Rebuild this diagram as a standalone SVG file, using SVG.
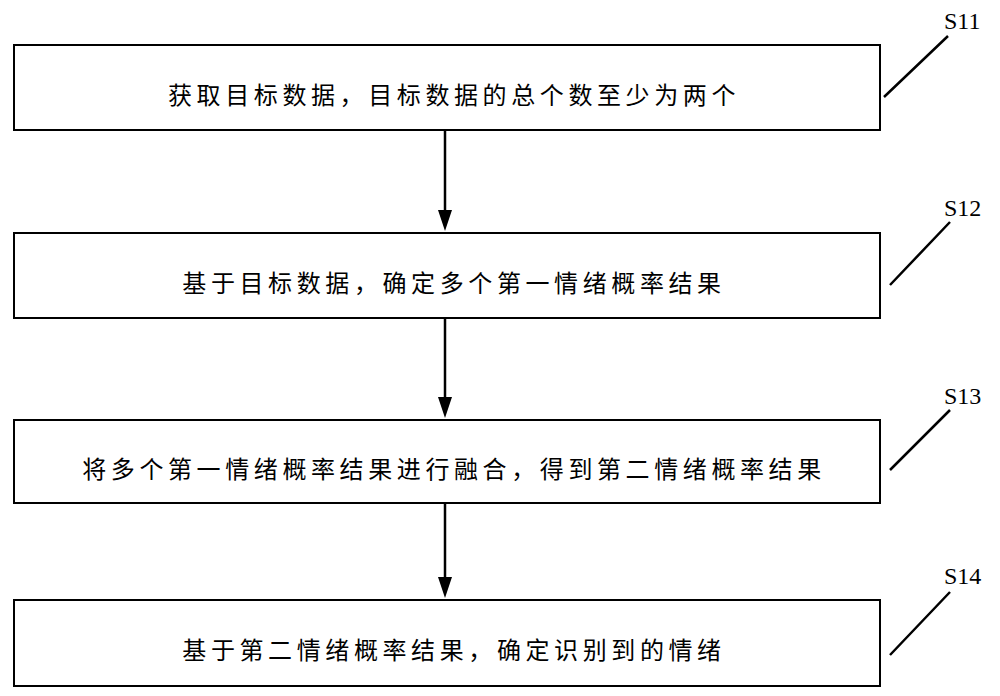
<svg xmlns="http://www.w3.org/2000/svg" width="1000" height="696" viewBox="0 0 1000 696">
<style>
.box{fill:#fff;stroke:#000;stroke-width:2}
.t{font-family:"Noto Sans CJK SC",sans-serif;font-size:24px;letter-spacing:4.6px;text-anchor:middle;fill:#000}
.l{font-family:"Liberation Serif",serif;font-size:24px;fill:#000}
.c{stroke:#000;stroke-width:2.5;fill:none}
</style>
<defs><marker id="a" markerWidth="14" markerHeight="22" refX="7" refY="22" orient="auto-start-reverse" markerUnits="userSpaceOnUse" viewBox="0 0 14 22"><path d="M0,0L7,22L14,0z" fill="#000" transform="rotate(0)"/></marker></defs>
<rect width="1000" height="696" fill="#fff"/>
<g id="n1"><rect class="box" x="14" y="45" width="866" height="85"/><text class="t" x="454" y="104">获取目标数据，目标数据的总个数至少为两个</text></g>
<g id="n2"><rect class="box" x="14" y="233" width="866" height="85"/><text class="t" x="454" y="292">基于目标数据，确定多个第一情绪概率结果</text></g>
<g id="n3"><rect class="box" x="14" y="420" width="866" height="83"/><text class="t" x="454" y="478">将多个第一情绪概率结果进行融合，得到第二情绪概率结果</text></g>
<g id="n4"><rect class="box" x="14" y="600" width="866" height="86"/><text class="t" x="454" y="659">基于第二情绪概率结果，确定识别到的情绪</text></g>
<g id="labels">
<text class="l" x="944" y="29">S11</text><text class="l" x="944" y="216">S12</text><text class="l" x="944" y="404">S13</text><text class="l" x="944" y="584">S14</text>
</g>
<g id="connectors">
<path class="c" d="M445,130V210"/><path d="M438,210L445,231L452,210z"/>
<path class="c" d="M445,318V397"/><path d="M438,397L445,418L452,397z"/>
<path class="c" d="M445,503V577"/><path d="M438,577L445,598L452,577z"/>
<path class="c" stroke-width="1.5" d="M884,97L948,36M890,285L950,222M890,470L950,410M890,655L950,592"/>
</g>
</svg>
